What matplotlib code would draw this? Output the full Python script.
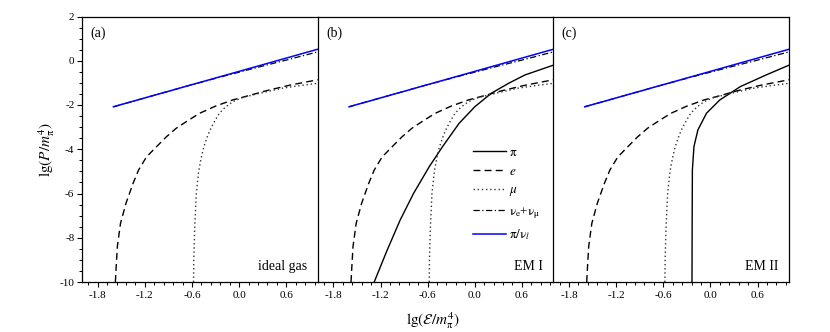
import numpy as np
import matplotlib
matplotlib.use("Agg")
import matplotlib.pyplot as plt
from matplotlib.ticker import MultipleLocator, FormatStrFormatter

plt.rcParams["font.family"] = ["Liberation Serif", "DejaVu Serif"]
plt.rcParams["mathtext.fontset"] = "stix"
plt.rcParams["axes.unicode_minus"] = False

# ---- data (lg(eps/m^4), lg(P/m^4)) ----
# pi/nu_l reference line
blue_x = [-1.60, -0.30, 1.00]
blue_y = [-2.08, -0.78, 0.52]

# nu_e + nu_mu
nu_x = [-1.60, -1.00, -0.60, -0.20, 0.20, 0.60, 1.00]
nu_y = [-2.08, -1.48, -1.08, -0.70, -0.33, 0.03, 0.40]

# electrons (same in all three panels)
e_x = [-1.575, -1.568, -1.55, -1.51, -1.44, -1.35, -1.28, -1.18, -1.05, -0.93, -0.80,
       -0.65, -0.50, -0.30, -0.08, 0.15, 0.35, 0.65, 1.00]
e_y = [-10.0, -9.5, -8.4, -7.35, -6.44, -5.54, -4.94, -4.35, -3.88, -3.45, -3.05,
       -2.70, -2.37, -2.05, -1.77, -1.55, -1.35, -1.10, -0.86]

# muons (same in all three panels)
mu_x = [-0.580, -0.577, -0.565, -0.545, -0.515, -0.48, -0.45, -0.41, -0.37, -0.31, -0.25,
        -0.17, -0.08, 0.03, 0.17, 0.35, 0.55, 0.78, 1.00]
mu_y = [-10.0, -9.0, -7.5, -6.0, -5.0, -4.35, -3.9, -3.48, -3.13, -2.72, -2.37,
        -2.08, -1.85, -1.68, -1.55, -1.40, -1.24, -1.12, -1.02]

# pions, EM I
pi1_x = [-1.28, -1.12, -0.95, -0.78, -0.58, -0.41, -0.20, 0.00, 0.21, 0.43, 0.64, 1.00]
pi1_y = [-10.0, -8.6, -7.2, -6.0, -4.79, -3.88, -2.83, -2.08, -1.47, -1.02, -0.64, -0.20]

# pions, EM II
pi2_x = [-0.235, -0.233, -0.23, -0.21, -0.16, -0.05, 0.12, 0.38, 0.71, 1.00]
pi2_y = [-10.0, -7.5, -4.94, -3.88, -3.13, -2.37, -1.77, -1.17, -0.64, -0.20]

panel_tags = ["(a)", "(b)", "(c)"]
panel_names = ["ideal gas", "EM I", "EM II"]
pi_curves = [None, (pi1_x, pi1_y), (pi2_x, pi2_y)]

W, H = 830, 332
fig = plt.figure(figsize=(W / 100, H / 100), dpi=100)
left, right, top, bottom = 82, 789, 16.5, 282
pw = (right - left) / 3

axes = []
for i in range(3):
    ax = fig.add_axes([(left + i * pw) / W, (H - bottom) / H, pw / W, (bottom - top) / H])
    ax.patch.set_visible(False)
    axes.append(ax)

    if pi_curves[i] is not None:
        ax.plot(*pi_curves[i], color="black", lw=1.0, ls="-", label=r"$\mathrm{\pi}$")
    ax.plot(e_x, e_y, color="black", lw=1.0, ls=(0, (5, 3)), label=r"$e$")
    ax.plot(mu_x, mu_y, color="#333333", lw=1.0, ls=(0, (1, 2)), label=r"$\mu$")
    ax.plot(nu_x, nu_y, color="black", lw=0.9, ls=(0, (5, 2, 1, 2)),
            label=r"$\mathrm{\nu_e}$+$\mathrm{\nu_\mu}$")
    ax.plot(blue_x, blue_y, color="#0000ff", lw=1.1, label=r"$\mathrm{\pi/\nu}_l$")

    ax.set_xlim(-2.0, 1.0)
    ax.set_ylim(-10, 2)
    ax.xaxis.set_major_locator(MultipleLocator(0.6))
    ax.xaxis.set_minor_locator(MultipleLocator(0.12))
    ax.xaxis.set_major_formatter(FormatStrFormatter("%.1f"))
    ax.tick_params(axis="x", which="major", direction="out", length=3.5, width=0.8,
                   labelsize=8, pad=3, top=False)
    ax.tick_params(axis="x", which="minor", direction="out", length=2, width=0.7, top=False)
    if i == 0:
        ax.yaxis.set_major_locator(MultipleLocator(2))
        ax.yaxis.set_minor_locator(MultipleLocator(0.5))
        ax.yaxis.set_major_formatter(FormatStrFormatter("%d"))
        ax.tick_params(axis="y", which="major", direction="out", length=3.5, width=0.8,
                       labelsize=8, pad=2, right=False)
        ax.tick_params(axis="y", which="minor", direction="out", length=2, width=0.7, right=False)
    else:
        ax.tick_params(axis="y", which="both", left=False, right=False, labelleft=False)
        ax.spines["left"].set_visible(False)
    for s in ax.spines.values():
        s.set_linewidth(0.9)
        s.set_color("black")

    ax.text(0.035, 0.935, panel_tags[i], transform=ax.transAxes, fontsize=10,
            ha="left", va="center")
    ax.text(0.955, 0.06, panel_names[i], transform=ax.transAxes, fontsize=10,
            ha="right", va="center")

axes[1].legend(loc="upper left", bbox_to_anchor=(0.66, 0.51), frameon=False,
               fontsize=9.5, handlelength=2.5, handletextpad=0.25, labelspacing=0.5,
               borderpad=0, borderaxespad=0)

fig.text(47 / W, 1 - 150 / H, r"$\mathrm{lg}(P/m_{\mathrm{\pi}}^{4})$", rotation=90,
         fontsize=11, ha="center", va="center")
fig.text(433 / W, 1 - 321 / H, r"$\mathrm{lg}(\mathcal{E}/m_{\mathrm{\pi}}^{4})$",
         fontsize=11, ha="center", va="center")

fig.savefig("out.png", dpi=100)
